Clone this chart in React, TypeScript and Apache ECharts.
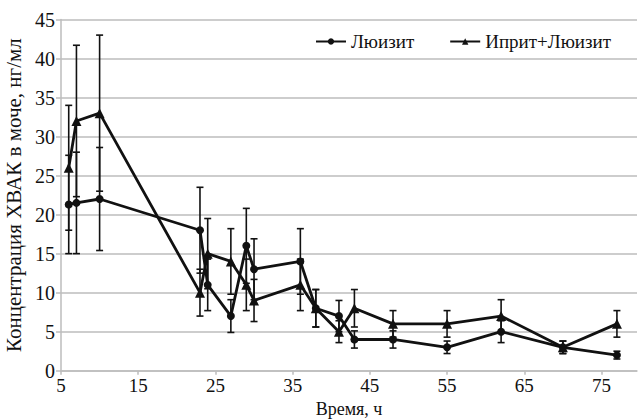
import React, { useEffect, useRef } from "react";
import * as echarts from "echarts";

const hours = [6, 7, 10, 23, 24, 27, 29, 30, 36, 38, 41, 43, 48, 55, 62, 70, 77];
const lewisite = [21.3, 21.5, 22, 18, 11, 7, 16, 13, 14, 8, 7, 4, 4, 3, 5, 3, 2];
const lewisiteErr = [6.3, 6.5, 6.6, 5.5, 3.3, 2.1, 4.8, 3.9, 4.2, 2.4, 2, 1.1, 1.1, 0.8, 1.4, 0.8, 0.5];
const mixture = [26, 32, 33, 10, 15, 14, 11, 9, 11, 8, 5, 8, 6, 6, 7, 3, 6];
const mixtureErr = [8, 9.7, 10, 3, 4.5, 4.2, 3.3, 2.7, 3.3, 2.4, 1.4, 2.4, 1.7, 1.7, 2.1, 0.8, 1.7];

const seriesNames = ["Люизит", "Иприт+Люизит"];
const xAxisName = "Время, ч";
const yAxisName = "Концентрация ХВАК в моче, нг/мл";

const FONT = "Liberation Serif";

function errorBars(values: number[], errs: number[]) {
  return hours.map((h, i) => [h, values[i] - errs[i], values[i] + errs[i]]);
}

function renderErr(params: any, api: any) {
  const lo = api.coord([api.value(0), api.value(1)]);
  const hi = api.coord([api.value(0), api.value(2)]);
  const w = 3.5;
  const style = { stroke: "#111", lineWidth: 1.6 };
  return {
    type: "group",
    children: [
      { type: "line", shape: { x1: hi[0], y1: hi[1], x2: lo[0], y2: lo[1] }, style },
      { type: "line", shape: { x1: hi[0] - w, y1: hi[1], x2: hi[0] + w, y2: hi[1] }, style },
      { type: "line", shape: { x1: lo[0] - w, y1: lo[1], x2: lo[0] + w, y2: lo[1] }, style },
    ],
  };
}

export default function App() {
  const ref = useRef<HTMLDivElement>(null);
  useEffect(() => {
    if (!ref.current) return;
    const chart = echarts.init(ref.current, null, { renderer: "svg" });
    chart.setOption({
      animation: false,
      backgroundColor: "#fff",
      textStyle: { fontFamily: FONT },
      grid: { left: 61, right: 1, top: 19.5, bottom: 48.3, containLabel: false, outerBoundsMode: "none" },
      legend: {
        data: seriesNames,
        top: 27,
        right: 22,
        itemWidth: 30,
        itemHeight: 8,
        itemGap: 35,
        textStyle: { fontFamily: FONT, fontSize: 19, color: "#111" },
      },
      xAxis: {
        type: "value",
        min: 5,
        max: 79.6,
        interval: 10,
        name: xAxisName,
        nameLocation: "middle",
        nameGap: 23,
        nameTextStyle: { fontFamily: FONT, fontSize: 18, color: "#111" },
        axisLine: { show: true, lineStyle: { color: "#bdbdbd", width: 1.5 } },
        axisTick: { show: true, length: 4, lineStyle: { color: "#bdbdbd", width: 1.5 } },
        axisLabel: { showMaxLabel: false, margin: 5, fontFamily: FONT, fontSize: 19, color: "#111" },
        splitLine: { show: false },
      },
      yAxis: {
        type: "value",
        min: 0,
        max: 45,
        interval: 5,
        name: yAxisName,
        nameLocation: "middle",
        nameGap: 27,
        nameTextStyle: { fontFamily: FONT, fontSize: 21, color: "#111" },
        axisLine: { show: true, lineStyle: { color: "#bdbdbd", width: 1.5 } },
        axisTick: { show: true, length: 5, lineStyle: { color: "#bdbdbd", width: 1.5 } },
        axisLabel: { margin: 6, fontFamily: FONT, fontSize: 20, color: "#111" },
        splitLine: { show: true, lineStyle: { color: "#bdbdbd", width: 1.5 } },
      },
      series: [
        {
          type: "custom",
          name: "err1",
          renderItem: renderErr,
          data: errorBars(lewisite, lewisiteErr),
          encode: { x: 0, y: [1, 2] },
          z: 3,
        },
        {
          type: "custom",
          name: "err2",
          renderItem: renderErr,
          data: errorBars(mixture, mixtureErr),
          encode: { x: 0, y: [1, 2] },
          z: 3,
        },
        {
          type: "line",
          name: seriesNames[0],
          data: hours.map((h, i) => [h, lewisite[i]]),
          symbol: "circle",
          symbolSize: 8,
          lineStyle: { color: "#111", width: 2.8 },
          itemStyle: { color: "#111" },
          z: 4,
        },
        {
          type: "line",
          name: seriesNames[1],
          data: hours.map((h, i) => [h, mixture[i]]),
          symbol: "triangle",
          symbolSize: 10,
          lineStyle: { color: "#111", width: 2.8 },
          itemStyle: { color: "#111" },
          z: 4,
        },
      ],
    });
    return () => chart.dispose();
  }, []);
  return (
    <div
      ref={ref}
      style={{ position: "fixed", left: 0, top: 0, width: 638, height: 419, background: "#fff" }}
    />
  );
}
